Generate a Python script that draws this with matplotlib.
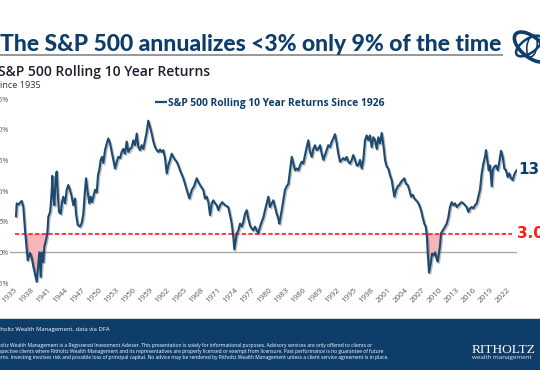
import matplotlib
matplotlib.use("Agg")
import matplotlib.pyplot as plt
import matplotlib.patheffects as pe
from matplotlib.patches import Rectangle, Ellipse
import numpy as np

# ---------------- data ----------------
years_1935_1963 = [1935.0, 1935.12, 1935.41, 1936.01, 1936.29, 1936.59, 1936.89, 1937.06, 1937.47, 1937.77,
                   1938.05, 1938.47, 1938.65, 1938.93, 1939.11, 1939.36, 1939.53, 1939.81, 1939.99, 1940.29,
                   1940.52, 1940.70, 1941.00, 1941.12, 1941.30, 1941.40, 1941.58, 1941.76, 1942.00, 1942.18,
                   1942.35, 1942.58, 1942.88, 1943.11, 1943.34, 1943.64, 1943.94, 1944.22, 1944.52, 1944.82,
                   1945.11, 1945.41, 1945.58, 1945.88, 1946.29, 1946.59, 1946.87, 1947.17, 1947.35, 1947.58,
                   1947.93, 1948.17, 1948.40, 1948.63, 1948.93, 1949.23, 1949.46, 1949.69, 1949.94, 1950.17,
                   1950.40, 1950.70, 1951.00, 1951.28, 1951.58, 1951.88, 1952.16, 1952.46, 1952.76, 1953.04,
                   1953.34, 1953.64, 1953.92, 1954.22, 1954.52, 1954.81, 1955.11, 1955.41, 1955.69, 1955.99,
                   1956.29, 1956.57, 1956.87, 1957.17, 1957.45, 1957.75, 1958.05, 1958.33, 1958.63, 1958.93,
                   1959.22, 1959.52, 1959.82, 1960.10, 1960.40, 1960.70, 1960.98, 1961.28, 1961.58, 1961.86,
                   1962.16, 1962.46, 1962.74, 1963.04, 1963.34, 1963.62]
returns_1935_1963 = [5.9, 8.0, 7.8, 8.4, 7.4, 3.6, 0.4, -1.3, -0.1, -0.9,
                     -2.3, -4.0, -4.8, -1.8, 0.0, -4.0, 0.0, -1.6, 0.9, 2.0,
                     3.1, 5.8, 6.6, 7.7, 10.2, 12.5, 9.1, 7.7, 12.3, 13.2,
                     9.8, 6.6, 6.3, 8.2, 9.1, 8.0, 10.2, 11.0, 10.2, 9.1,
                     7.7, 8.8, 6.3, 4.5, 4.2, 4.8, 6.3, 10.2, 12.1, 10.2,
                     8.0, 9.1, 8.2, 9.1, 10.2, 9.8, 12.6, 13.5, 15.1, 15.6,
                     14.6, 16.7, 17.8, 18.6, 17.8, 16.4, 15.1, 13.7, 14.8, 15.6,
                     15.4, 16.4, 16.9, 16.1, 18.1, 16.4, 16.9, 17.2, 18.3, 17.5,
                     19.4, 17.2, 16.7, 17.5, 16.9, 18.3, 19.7, 21.5, 20.5, 19.4,
                     18.1, 17.2, 16.7, 16.4, 16.8, 16.4, 16.7, 15.4, 12.9, 14.2,
                     15.1, 16.1, 15.6, 15.1, 14.8, 14.2]

years_1964_1996 = [1963.92, 1964.51, 1965.11, 1965.56, 1965.99, 1966.39, 1966.87, 1967.15, 1967.58, 1968.03,
                   1968.33, 1968.63, 1968.92, 1969.22, 1969.52, 1969.80, 1970.10, 1970.40, 1970.68, 1970.98,
                   1971.38, 1971.86, 1972.44, 1972.74, 1973.04, 1973.33, 1973.50, 1973.75, 1973.93, 1974.21,
                   1974.51, 1974.81, 1975.09, 1975.39, 1975.69, 1975.97, 1976.27, 1976.57, 1976.85, 1977.15,
                   1977.45, 1977.73, 1978.03, 1978.33, 1978.62, 1978.92, 1979.22, 1979.50, 1979.80, 1980.10,
                   1980.38, 1980.68, 1980.98, 1981.26, 1981.44, 1981.86, 1982.14, 1982.44, 1982.74, 1983.03,
                   1983.33, 1983.63, 1983.91, 1984.21, 1984.51, 1984.79, 1985.09, 1985.39, 1985.67, 1985.97,
                   1986.27, 1986.55, 1986.85, 1987.15, 1987.44, 1987.73, 1988.03, 1988.32, 1988.62, 1988.92,
                   1989.20, 1989.50, 1989.80, 1990.08, 1990.38, 1990.68, 1990.96, 1991.26, 1991.56, 1991.84,
                   1992.14, 1992.44, 1992.73, 1993.02, 1993.32, 1993.61, 1993.91, 1994.21, 1994.49, 1994.79,
                   1995.09, 1995.37, 1995.67, 1995.97, 1996.25]
returns_1964_1996 = [13.4, 12.1, 10.2, 8.8, 10.2, 10.8, 12.1, 11.5, 10.8, 10.2,
                     8.8, 9.1, 8.2, 6.1, 8.0, 8.5, 8.0, 7.7, 6.9, 7.7,
                     8.2, 7.7, 7.4, 6.1, 4.7, 2.5, 0.5, 2.0, 3.1, 3.6,
                     4.7, 4.2, 5.0, 6.3, 6.9, 5.5, 4.4, 3.9, 3.6, 4.2,
                     3.6, 3.1, 4.2, 5.0, 5.7, 6.9, 8.0, 9.1, 7.4, 8.0,
                     8.5, 7.4, 6.3, 5.5, 4.7, 6.9, 8.5, 10.2, 10.8, 11.2,
                     13.4, 15.6, 14.5, 13.4, 13.7, 13.4, 14.2, 14.8, 14.5, 15.9,
                     17.2, 18.3, 16.4, 15.6, 16.9, 17.5, 16.7, 16.9, 17.5, 16.1,
                     15.1, 15.9, 16.7, 17.5, 17.2, 18.1, 18.6, 19.3, 17.8, 16.1,
                     14.8, 15.1, 15.4, 15.1, 15.6, 14.8, 14.5, 15.1, 15.9, 15.1,
                     14.2, 14.2, 15.1, 13.7, 15.1]

years_1996_2023 = [1996.55, 1996.85, 1997.13, 1997.43, 1997.73, 1998.02, 1998.32, 1998.62, 1998.90, 1999.20,
                   1999.50, 1999.68, 1999.90, 2000.08, 2000.38, 2000.66, 2000.96, 2001.26, 2001.54, 2001.72,
                   2002.02, 2002.32, 2002.60, 2002.90, 2003.20, 2003.48, 2003.78, 2004.08, 2004.37, 2004.67,
                   2004.97, 2005.25, 2005.55, 2005.85, 2006.13, 2006.43, 2006.73, 2007.01, 2007.26, 2007.43,
                   2007.61, 2007.84, 2008.14, 2008.37, 2008.60, 2008.90, 2009.20, 2009.38, 2009.60, 2009.78,
                   2009.96, 2010.26, 2010.66, 2010.96, 2011.24, 2011.54, 2011.84, 2012.13, 2012.43, 2012.73,
                   2013.01, 2013.31, 2013.61, 2013.89, 2014.19, 2014.49, 2014.77, 2015.07, 2015.37, 2015.65,
                   2015.95, 2016.25, 2016.53, 2016.83, 2017.13, 2017.42, 2017.72, 2017.89, 2018.12, 2018.37,
                   2018.60, 2018.90, 2019.08, 2019.36, 2019.66, 2019.96, 2020.24, 2020.54, 2020.84, 2021.12,
                   2021.42, 2021.72, 2022.00, 2022.30, 2022.60, 2022.83, 2023.13, 2023.42]
returns_1996_2023 = [18.3, 19.1, 18.3, 19.1, 17.2, 18.8, 18.3, 16.9, 18.8, 17.8,
                     19.5, 18.3, 16.7, 15.1, 14.0, 13.7, 12.6, 11.8, 10.2, 9.1,
                     10.2, 10.8, 11.0, 11.5, 11.8, 12.1, 11.2, 11.0, 10.2, 9.1,
                     9.4, 8.8, 8.5, 8.2, 7.7, 6.9, 5.7, 4.7, 4.2, 3.1,
                     0.0, -3.3, -1.8, -0.2, -0.5, 0.0, -1.1, -1.5, 0.0, 1.1,
                     3.1, 3.6, 4.2, 4.7, 5.7, 7.4, 8.2, 7.7, 8.0, 7.4,
                     7.7, 8.0, 8.2, 8.0, 7.7, 7.4, 6.6, 7.2, 7.4, 7.2,
                     7.7, 8.0, 9.1, 10.2, 12.9, 14.5, 15.6, 16.7, 15.1, 13.4,
                     14.2, 10.8, 13.4, 14.0, 14.2, 13.4, 14.8, 16.6, 15.6, 13.7,
                     13.4, 12.3, 12.9, 12.1, 11.8, 12.6, 13.2, 13.5]

threshold = 3.0
threshold_end = 2022.4
tick_years = list(range(1935, 2023, 3))
y_ticks = [-5, 0, 5, 10, 15, 20, 25]
last_value_label = "13.5%"
threshold_label = "3.0%"

years = np.array(years_1935_1963 + years_1964_1996 + years_1996_2023)
returns = np.array(returns_1935_1963 + returns_1964_1996 + returns_1996_2023)

# ---------------- style ----------------
NAVY = '#0e3d6a'
LINE = '#1b4a73'
RED = '#ff1a1a'
PINK = '#f6b5b7'
TICK = '#595959'

W, H = 540, 370
fig = plt.figure(figsize=(W / 100, H / 100), dpi=100)
fig.patch.set_facecolor('white')
renderer = fig.canvas.get_renderer()


def fx(p):
    return p / W


def fy(p):
    return 1 - p / H


def fit(t, width_px):
    w = t.get_window_extent(renderer).width
    t.set_fontsize(t.get_fontsize() * width_px / w)
    return t


# decorative overlay in pixel coordinates
ov = fig.add_axes([0, 0, 1, 1], zorder=0)
ov.set_xlim(0, W)
ov.set_ylim(H, 0)
ov.axis('off')
ov.add_patch(Rectangle((0, 318.5), W, H - 318.5, color=NAVY, lw=0))
ov.plot([0, W], [318, 318], color='#c9ced6', lw=0.6)
ov.plot([0, 503], [54.5, 54.5], color='#8f8f8f', lw=1.3, solid_capstyle='butt')
# logo (top right)
ov.add_patch(Ellipse((531, 47), 40, 20, angle=40, fill=False, ec=NAVY, lw=2.6))
ov.add_patch(Ellipse((529, 46), 30, 14, angle=-35, fill=False, ec=NAVY, lw=1.8))
ov.add_patch(Ellipse((532, 46), 10, 22, angle=10, fill=False, ec=NAVY, lw=1.2))

# ---------------- texts ----------------
t = fig.text(fx(0), fy(51), "The S&P 500 annualizes <3% only 9% of the time",
             fontsize=16, fontweight='black', color=NAVY, family=['Lato', 'DejaVu Sans'], va='baseline')
fit(t, 502)
t = fig.text(fx(-2), fy(76), "S&P 500 Rolling 10 Year Returns",
             fontsize=11, fontweight='semibold', color='#1d1d2b', family='Open Sans', va='baseline')
fit(t, 211)
t = fig.text(fx(-5), fy(88.5), "Since 1935", fontsize=7, color='#333333', family='Open Sans', va='baseline')
fit(t, 46)

# legend
ov.plot([155, 167], [102, 102], color=LINE, lw=1.6, solid_capstyle='butt')
t = fig.text(fx(168), fy(106), "S&P 500 Rolling 10 Year Returns Since 1926",
             fontsize=8, fontweight='bold', color=NAVY, family='Open Sans', va='baseline')
fit(t, 217)

# footer
fig.text(fx(110), fy(330.5), "Source: Ritholtz Wealth Management, data via DFA",
         fontsize=4.2, color='white', family='Open Sans', ha='right', va='baseline')
disc = ["Ritholtz Wealth Management is a Registered Investment Adviser. This presentation is solely for informational purposes. Advisory services are only offered to clients or",
        "prospective clients where Ritholtz Wealth Management and its representatives are properly licensed or exempt from licensure. Past performance is no guarantee of future",
        "returns. Investing involves risk and possible loss of principal capital. No advice may be rendered by Ritholtz Wealth Management unless a client service agreement is in place."]
dt = [fig.text(fx(-9), fy(b), s, fontsize=4.0, color='white', family='Open Sans', va='baseline')
      for s, b in zip(disc, [347, 353, 359])]
w3 = dt[2].get_window_extent(renderer).width
for d in dt:
    d.set_fontsize(4.0 * 394 / w3)
t = fig.text(fx(472), fy(353), "RITHOLTZ", fontsize=9, color='white', family='Liberation Serif', va='baseline')
fit(t, 64)
t = fig.text(fx(472), fy(359.5), "wealth management", fontsize=5, color='#dfe6ee', family='Open Sans', va='baseline')
fit(t, 61)

# ---------------- chart ----------------
ax = fig.add_axes([fx(9.5), fy(283), fx(517) - fx(9.5), fy(99.3) - fy(283)], zorder=2)
ax.patch.set_visible(False)
ax.set_xlim(1933.85, 2023.36)
ax.set_ylim(-5, 25)
for s in ax.spines.values():
    s.set_visible(False)

ax.axhline(0, color='#a9a9a9', lw=1.0, zorder=1)
ax.fill_between(years, returns, threshold, where=returns < threshold, interpolate=True,
                color=PINK, lw=0, zorder=2)
ax.hlines(threshold, years[0] - 0.15, threshold_end, colors=RED, linestyles=(0, (2.6, 1.4)),
          lw=1.2, zorder=3)
ax.plot(years, returns, color=LINE, lw=1.5, zorder=4, solid_joinstyle='round',
        path_effects=[pe.SimpleLineShadow(offset=(0.9, -0.9), shadow_color='#404040', alpha=0.35),
                      pe.Normal()])

ax.set_yticks(y_ticks)
ax.set_yticklabels([f"{v}%" for v in y_ticks], fontsize=5.2, color=TICK, family='Open Sans')
ax.set_xticks(tick_years)
ax.set_xticklabels([str(y) for y in tick_years], fontsize=5.8, color=TICK, family='Open Sans',
                   rotation=45, ha='right', va='center', rotation_mode='anchor')
ax.tick_params(axis='y', length=0, pad=0.3)
ax.tick_params(axis='x', length=0, pad=4.5)

fig.text(fx(518), fy(169), last_value_label, fontsize=11, fontweight='bold', color=NAVY,
         family='DejaVu Sans', va='center')
fig.text(fx(517), fy(233), threshold_label, fontsize=11, fontweight='bold', color=RED,
         family='DejaVu Sans', va='center')

fig.savefig("out.png", dpi=100, facecolor='white')
